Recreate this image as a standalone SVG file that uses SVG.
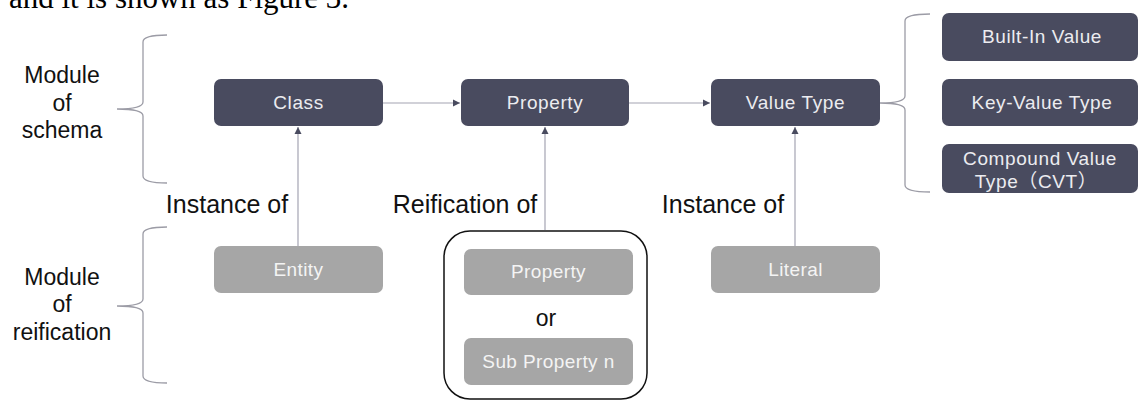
<svg xmlns="http://www.w3.org/2000/svg" width="1140" height="401" viewBox="0 0 1140 401">
<style>
.dark{fill:#494b5f}
.light{fill:#a6a6a6}
.bt{font-family:"Liberation Sans",Arial,"Noto Sans CJK SC",sans-serif;font-size:19px;fill:#ececf0;text-anchor:middle;letter-spacing:0.6px}
.lt{font-family:"Liberation Sans",Arial,sans-serif;font-size:19px;fill:#f4f4f4;text-anchor:middle;letter-spacing:0.4px}
.lab{font-family:"Liberation Sans",Arial,sans-serif;font-size:25px;fill:#111;text-anchor:middle}
.mod{font-family:"Liberation Sans",Arial,sans-serif;font-size:23px;fill:#111;text-anchor:middle}
.br{fill:none;stroke:#9c9ca6;stroke-width:1.3}
.ln{fill:none;stroke:#a4a4b2;stroke-width:1.2}
</style>
<defs>
<marker id="ah" markerWidth="8" markerHeight="8" refX="7" refY="4" orient="auto" markerUnits="userSpaceOnUse">
<path d="M0,0.5 L7,4 L0,7.5 Z" fill="#494b5f"/>
</marker>
</defs>
<text x="9" y="8" font-family="Liberation Serif,'Times New Roman',serif" font-size="31" fill="#000">and it is shown as Figure 3.</text>
<g id="brackets">
<path class="br" d="M167,35 Q143,35 143,42 L143,102 Q143,109 117,109 Q143,109 143,116 L143,176 Q143,183 167,183"/>
<path class="br" d="M167,227 Q143,227 143,234 L143,299 Q143,306 117,306 Q143,306 143,313 L143,376 Q143,383 167,383"/>
<path class="br" d="M930,14 Q905,14 905,21 L905,96 Q905,103 880,103 Q905,103 905,110 L905,185 Q905,192 930,192"/>
</g>
<g id="module-labels">
<text class="mod" x="62" y="83">Module</text>
<text class="mod" x="62" y="111">of</text>
<text class="mod" x="62" y="138">schema</text>
<text class="mod" x="62" y="285">Module</text>
<text class="mod" x="62" y="312">of</text>
<text class="mod" x="62" y="340">reification</text>
</g>
<g id="connectors">
<line class="ln" x1="383" y1="103" x2="460" y2="103" marker-end="url(#ah)"/>
<line class="ln" x1="629" y1="103" x2="710" y2="103" marker-end="url(#ah)"/>
<line class="ln" x1="298" y1="246" x2="298" y2="127" marker-end="url(#ah)"/>
<line class="ln" x1="545" y1="230" x2="545" y2="127" marker-end="url(#ah)"/>
<line class="ln" x1="795" y1="246" x2="795" y2="127" marker-end="url(#ah)"/>
</g>
<g id="edge-labels">
<text class="lab" x="227" y="213">Instance of</text>
<text class="lab" x="465" y="213">Reification of</text>
<text class="lab" x="723" y="213">Instance of</text>
</g>
<g id="class"><rect class="dark" x="214" y="79" width="169" height="47" rx="7"/><text class="bt" x="298.5" y="109">Class</text></g>
<g id="property"><rect class="dark" x="461" y="79" width="168" height="47" rx="7"/><text class="bt" x="545" y="109">Property</text></g>
<g id="value-type"><rect class="dark" x="711" y="79" width="169" height="47" rx="7"/><text class="bt" x="795.5" y="109">Value Type</text></g>
<g id="built-in"><rect class="dark" x="942" y="13" width="196" height="48" rx="7"/><text class="bt" x="1042" y="43">Built-In Value</text></g>
<g id="key-value"><rect class="dark" x="942" y="79" width="196" height="47" rx="7"/><text class="bt" x="1042" y="109">Key-Value Type</text></g>
<g id="cvt"><rect class="dark" x="942" y="144" width="196" height="49" rx="7"/><text class="bt" x="1040" y="165">Compound Value</text><text class="bt" x="1036" y="188">Type（CVT）</text></g>
<g id="entity"><rect class="light" x="214" y="246" width="169" height="47" rx="7"/><text class="lt" x="298.5" y="276">Entity</text></g>
<g id="literal"><rect class="light" x="711" y="246" width="169" height="47" rx="7"/><text class="lt" x="795.5" y="276">Literal</text></g>
<g id="reification-group">
<rect x="444" y="231" width="203" height="168" rx="26" fill="#fff" stroke="#111" stroke-width="1.5"/>
<rect class="light" x="464" y="249" width="169" height="46" rx="7"/><text class="lt" x="548.5" y="278">Property</text>
<text x="546" y="326" font-family="Liberation Sans,Arial,sans-serif" font-size="23" fill="#111" text-anchor="middle">or</text>
<rect class="light" x="464" y="338" width="169" height="47" rx="7"/><text class="lt" x="548.5" y="368">Sub Property n</text>
</g>
</svg>
